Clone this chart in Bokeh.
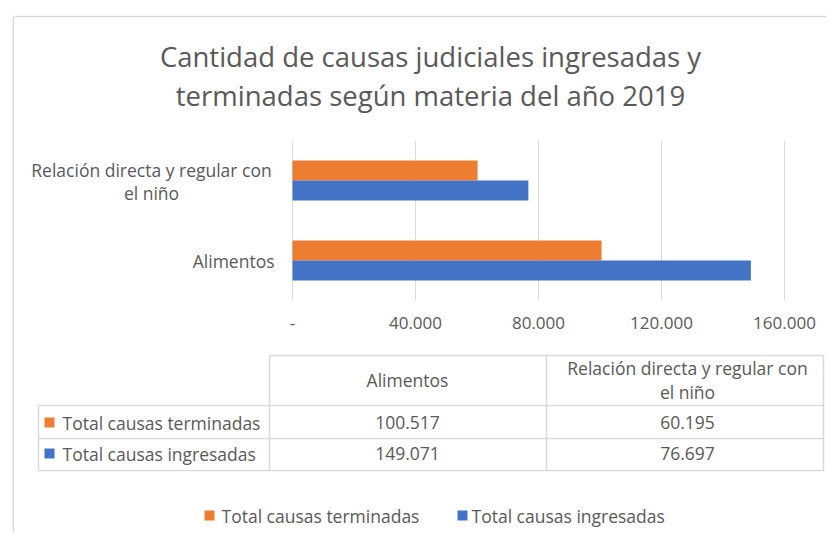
import textwrap
from bokeh.plotting import figure
from bokeh.layouts import column, row
from bokeh.models import ColumnDataSource, Range1d, FactorRange, FixedTicker
from bokeh.transform import dodge
from bokeh.core.properties import value
from bokeh.embed import file_html
from bokeh.resources import INLINE

# ---------------- data ----------------
categories = ["Alimentos", "Relación directa y regular con el niño"]
terminadas = [100517, 60195]
ingresadas = [149071, 76697]
series_names = ["Total causas terminadas", "Total causas ingresadas"]
x_ticks = [0, 40000, 80000, 120000, 160000]
x_tick_labels = ["-", "40.000", "80.000", "120.000", "160.000"]
title_lines = ["Cantidad de causas judiciales ingresadas y",
               "terminadas según materia del año 2019"]

# ---------------- style ----------------
ORANGE = "#ED7D31"
BLUE = "#4472C4"
TXT = "#595959"
LINE = "#D9D9D9"
FNAME = "Open Sans"
FONT = value(FNAME)
FS = "17.5px"
TICK_FS = "17px"
TITLE_FS = "27.5px"
LW = 14          # width of the left border strip
W = 812          # width of main column
H_T, H_B_FRAME, H_B_BOT, H_C = 140, 160, 45, 188
H_ALL = H_T + H_B_FRAME + H_B_BOT + H_C


def fmt(v):
    return f"{v:,}".replace(",", ".")


def blank(w, h):
    p = figure(width=w, height=h, x_range=Range1d(0, w), y_range=Range1d(h, 0),
               output_backend="svg", toolbar_location=None, min_border=0,
               x_axis_location=None, y_axis_location=None)
    p.xgrid.visible = False
    p.ygrid.visible = False
    p.outline_line_color = None
    return p


# ---------------- left border strip ----------------
pL = blank(LW, H_ALL)
pL.segment(x0=[13, 13], y0=[16, 16], x1=[13, LW], y1=[H_ALL, 16],
           line_color=LINE, line_width=1.5)

# ---------------- title figure ----------------
pT = blank(W, H_T)
pT.segment(x0=[0], y0=[16], x1=[W], y1=[16], line_color=LINE, line_width=1.5)
pT.text(x=[416, 416], y=[56, 95], text=title_lines, text_font=FONT,
        text_font_size=TITLE_FS, text_color=TXT, text_align="center",
        text_baseline="middle")

# ---------------- bar figure ----------------
PX = 160000 / 492.0  # data units per pixel (0 -> 160000 spans 492 px)
pB = figure(frame_width=W, frame_height=H_B_FRAME, min_border_left=0, min_border_right=0,
            min_border_top=0, min_border_bottom=H_B_BOT,
            x_range=Range1d(-278 * PX, 534 * PX), y_range=FactorRange(*categories),
            output_backend="svg", toolbar_location=None, y_axis_location=None)
pB.outline_line_color = None
pB.ygrid.visible = False
pB.xgrid.ticker = FixedTicker(ticks=x_ticks)
pB.xgrid.grid_line_color = LINE
pB.xgrid.grid_line_width = 1
ax = pB.xaxis[0]
ax.ticker = FixedTicker(ticks=x_ticks)
ax.major_label_overrides = {t: l for t, l in zip(x_ticks, x_tick_labels)}
ax.axis_line_color = None
ax.major_tick_line_color = None
ax.minor_tick_line_color = None
ax.major_tick_out = 0
ax.major_tick_in = 0
ax.major_label_standoff = 16
ax.major_label_text_font = FNAME
ax.major_label_text_font_size = TICK_FS
ax.major_label_text_color = TXT

src = ColumnDataSource(dict(cat=categories, terminadas=terminadas, ingresadas=ingresadas))
pB.hbar(y=dodge("cat", 0.125, range=pB.y_range), right="terminadas", left=0, height=0.25,
        source=src, fill_color=ORANGE, line_color=None)
pB.hbar(y=dodge("cat", -0.125, range=pB.y_range), right="ingresadas", left=0, height=0.25,
        source=src, fill_color=BLUE, line_color=None)

# category labels
short = [c for c in categories if len(c) <= 30]
pB.text(x=[0] * len(short), y=short, text=short, x_offset=-18, text_font=FONT,
        text_font_size=FS, text_color=TXT, text_align="right", text_baseline="middle")
long_lines = textwrap.wrap(categories[1], 30)
pB.text(x=[0] * len(long_lines), y=[categories[1]] * len(long_lines), text=long_lines,
        x_offset=-141, y_offset=[-11, 12], text_font=FONT, text_font_size=FS,
        text_color=TXT, text_align="center", text_baseline="middle")

# ---------------- table + legend figure ----------------
pC = blank(W, H_C)
hx0 = [255, 24, 24, 24]
hy = [10, 60, 93, 125]
hx1 = [809, 809, 809, 809]
pC.segment(x0=hx0, y0=hy, x1=hx1, y1=hy, line_color=LINE, line_width=1.5)
vx = [24, 255, 532, 809]
vy0 = [60, 10, 10, 10]
pC.segment(x0=vx, y0=vy0, x1=vx, y1=[125] * 4, line_color=LINE, line_width=1.5)

col_x = [393, 673]
head_lines = [textwrap.wrap(c, 30) for c in categories]
hxs, hys, hts = [], [], []
for cx, lines in zip(col_x, head_lines):
    n = len(lines)
    for i, ln in enumerate(lines):
        hxs.append(cx)
        hys.append(34 + (i - (n - 1) / 2) * 24)
        hts.append(ln)
pC.text(x=hxs, y=hys, text=hts, text_font=FONT, text_font_size=FS, text_color=TXT,
        text_align="center", text_baseline="middle")

row_y = [77, 108]
row_vals = [terminadas, ingresadas]
colors = [ORANGE, BLUE]
pC.rect(x=[35, 35], y=row_y, width=10, height=10, fill_color=colors, line_color=None)
pC.text(x=[48, 48], y=row_y, text=series_names, text_font=FONT, text_font_size=FS,
        text_color=TXT, text_align="left", text_baseline="middle")
vxs, vys, vts = [], [], []
for ry, vals in zip(row_y, row_vals):
    for cx, v in zip(col_x, vals):
        vxs.append(cx)
        vys.append(ry)
        vts.append(fmt(v))
pC.text(x=vxs, y=vys, text=vts, text_font=FONT, text_font_size=FS, text_color=TXT,
        text_align="center", text_baseline="middle")

# legend
pC.rect(x=[195, 448], y=[170, 170], width=10, height=10, fill_color=colors, line_color=None)
pC.text(x=[207, 457], y=[170, 170], text=series_names, text_font=FONT, text_font_size=FS,
        text_color=TXT, text_align="left", text_baseline="middle")

layout = row(pL, column(pT, pB, pC, spacing=0), spacing=0)
open("out.html", "w").write(file_html(layout, INLINE))
